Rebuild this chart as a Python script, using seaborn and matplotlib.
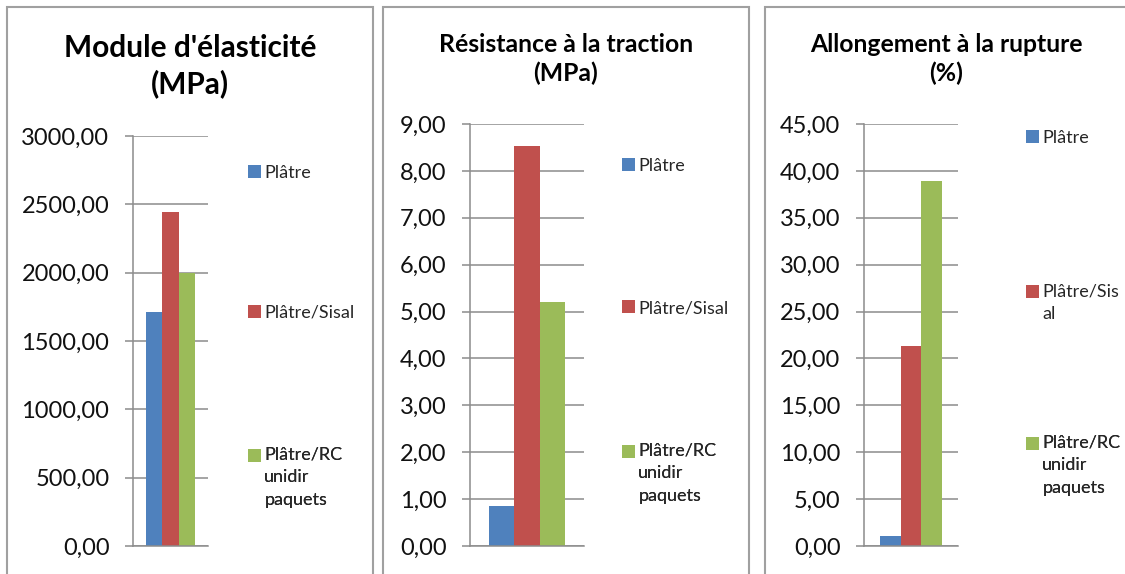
import matplotlib
matplotlib.use("Agg")
import matplotlib.pyplot as plt
from matplotlib.patches import Rectangle, Patch
from matplotlib.legend_handler import HandlerPatch
from matplotlib.ticker import FuncFormatter
import numpy as np
import pandas as pd
import seaborn as sns

# data
series = ["Plâtre", "Plâtre/Sisal", "Plâtre/RC unidir paquets"]
colors = ["#4F81BD", "#C0504D", "#9BBB59"]

module_mpa = [1715, 2445, 2000]
resistance_mpa = [0.86, 8.53, 5.20]
allongement_pct = [1.10, 21.30, 38.90]

titles = ["Module d'élasticité\n(MPa)",
          "Résistance à la traction\n(MPa)",
          "Allongement à la rupture\n(%)"]
legend_labels = [["Plâtre", "Plâtre/Sisal", "Plâtre/RC\nunidir\npaquets"],
                 ["Plâtre", "Plâtre/Sisal", "Plâtre/RC\nunidir\npaquets"],
                 ["Plâtre", "Plâtre/Sis\nal", "Plâtre/RC\nunidir\npaquets"]]
y_max = [3000, 9, 45]
y_step = [500, 1, 5]

sns.set_style("white")
plt.rcParams["font.family"] = ["Lato", "DejaVu Sans"]

W, H = 1125, 574
LEG_FS = 13
LEG_LINE_PX = 22  # distance between wrapped legend lines
fig = plt.figure(figsize=(W / 100, H / 100), dpi=100)


def box(l, t, r, b):
    return [l / W, 1 - b / H, (r - l) / W, (b - t) / H]


class FirstLineHandler(HandlerPatch):
    # excel puts the legend key next to the first line of a wrapped label
    def __init__(self, n_lines):
        super().__init__()
        self.n_lines = n_lines

    def create_artists(self, legend, orig_handle, xdescent, ydescent,
                       width, height, fontsize, trans):
        shift = (self.n_lines - 1) / 2 * LEG_LINE_PX * 0.72
        p = Rectangle((-xdescent, -ydescent + shift), width, height,
                      facecolor=orig_handle.get_facecolor(), linewidth=0,
                      transform=trans)
        return [p]


# layout of each panel, in pixels
frames = [(7, 373), (383, 749), (765, 1135)]
axes_boxes = [(133, 136, 208, 546), (470, 124, 584, 546), (864, 124, 958, 546)]
title_pos = [(190, 66, 21.5, 1.3), (566, 59, 17.8, 1.25), (946, 59, 17.8, 1.25)]
legend_x = [248, 622, 1026]
legend_y = [[175, 315, 457], [168, 310, 453], [140, 293, 445]]

values = [module_mpa, resistance_mpa, allongement_pct]
fmt = FuncFormatter(lambda v, p: f"{v:.2f}".replace(".", ","))

for i in range(3):
    l, r = frames[i]
    fig.patches.append(Rectangle((l / W, -0.05), (r - l) / W, 1 - 7 / H + 0.05,
                                 transform=fig.transFigure, fill=False,
                                 edgecolor="#a0a0a0", linewidth=1.5))

    ax = fig.add_axes(box(*axes_boxes[i]))
    df = pd.DataFrame({"cat": [""] * 3, "serie": series, "val": values[i]})
    sns.barplot(data=df, x="cat", y="val", hue="serie", hue_order=series,
                palette=colors, saturation=1, width=0.66, linewidth=0,
                legend=False, ax=ax)

    ax.set_ylim(0, y_max[i])
    ax.set_yticks(np.arange(0, y_max[i] + y_step[i] / 2, y_step[i]))
    ax.yaxis.set_major_formatter(fmt)
    ax.set_xticks([])
    ax.set_xlabel("")
    ax.set_ylabel("")
    ax.yaxis.grid(True, color="#8c8c8c", linewidth=1.1)
    ax.set_axisbelow(True)
    for s in ["top", "right"]:
        ax.spines[s].set_visible(False)
    for s in ["left", "bottom"]:
        ax.spines[s].set_color("#8c8c8c")
        ax.spines[s].set_linewidth(1.1)
    ax.tick_params(axis="y", length=6, width=1.1, color="#8c8c8c",
                   labelsize=17, pad=11, labelcolor="#111111", left=True)

    cx, cy, fs, lsp = title_pos[i]
    fig.text(cx / W, 1 - cy / H, titles[i], ha="center", va="center",
             fontsize=fs, fontweight="bold", linespacing=lsp, color="black")

    # one legend per entry so the keys sit where excel spreads them
    for j in range(3):
        lab = legend_labels[i][j]
        h = Patch(facecolor=colors[j])
        top = legend_y[i][j] - 10
        leg = ax.legend([h], [lab], loc="upper left",
                        bbox_to_anchor=(legend_x[i] / W, 1 - top / H),
                        bbox_transform=fig.transFigure, frameon=False,
                        fontsize=LEG_FS, handlelength=0.7, handleheight=0.7,
                        handletextpad=0.2, borderpad=0, borderaxespad=0,
                        handler_map={h: FirstLineHandler(lab.count("\n") + 1)})
        for t in leg.get_texts():
            t.set_linespacing(1.5)
        ax.add_artist(leg)

fig.savefig("out.png", dpi=100)
